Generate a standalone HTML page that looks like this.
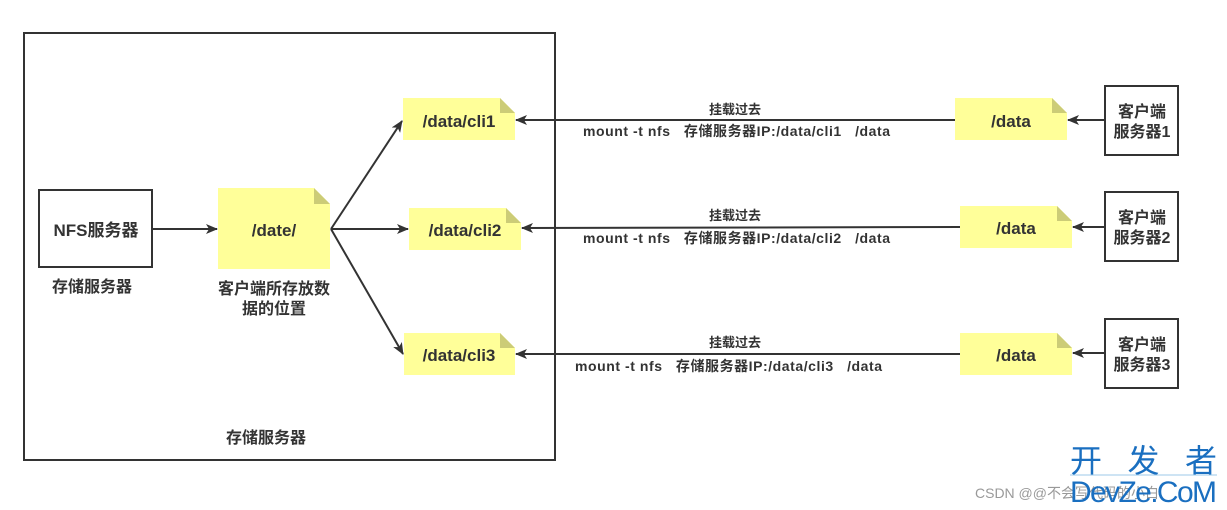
<!DOCTYPE html>
<html><head><meta charset="utf-8"><style>
html,body{margin:0;padding:0;background:#fff;}
svg{display:block;}
text{font-family:"Liberation Sans","Noto Sans CJK SC",sans-serif;fill:#333;font-weight:bold;}
</style></head><body>
<svg width="1227" height="510" viewBox="0 0 1227 510" xmlns="http://www.w3.org/2000/svg">
<defs>
<marker id="a" markerWidth="12" markerHeight="10" refX="11" refY="5" orient="auto" markerUnits="userSpaceOnUse">
<path d="M0,0 L12,5 L0,10 L3,5 Z" fill="#333"/></marker>
</defs>
<g fill="none" stroke="#333" stroke-width="2">
<rect x="24" y="33" width="531" height="427"/>
<rect x="39" y="190" width="113" height="77"/>
<rect x="1105" y="86" width="73" height="69"/>
<rect x="1105" y="192" width="73" height="69"/>
<rect x="1105" y="319" width="73" height="69"/>
</g>
<g fill="#ffff99">
<path d="M218,188 H314 L330,204 V269 H218 Z"/>
<path d="M403,98 H500 L515,113 V140 H403 Z"/>
<path d="M409,208 H506 L521,223 V250 H409 Z"/>
<path d="M404,333 H500 L515,348 V375 H404 Z"/>
<path d="M955,98 H1052 L1067,113 V140 H955 Z"/>
<path d="M960,206 H1057 L1072,221 V248 H960 Z"/>
<path d="M960,333 H1057 L1072,348 V375 H960 Z"/>
</g>
<g fill="#cccc77">
<path d="M314,188 L330,204 H314 Z"/>
<path d="M500,98 L515,113 H500 Z"/>
<path d="M506,208 L521,223 H506 Z"/>
<path d="M500,333 L515,348 H500 Z"/>
<path d="M1052,98 L1067,113 H1052 Z"/>
<path d="M1057,206 L1072,221 H1057 Z"/>
<path d="M1057,333 L1072,348 H1057 Z"/>
</g>
<g stroke="#333" stroke-width="2" fill="none" marker-end="url(#a)">
<line x1="152" y1="229" x2="217" y2="229"/>
<line x1="331" y1="229" x2="402" y2="121"/>
<line x1="331" y1="229" x2="408" y2="229"/>
<line x1="331" y1="229" x2="403" y2="354"/>
<line x1="955" y1="120" x2="516" y2="120"/>
<line x1="960" y1="227" x2="522" y2="228"/>
<line x1="960" y1="354" x2="516" y2="354"/>
<line x1="1105" y1="120" x2="1068" y2="120"/>
<line x1="1105" y1="227" x2="1073" y2="227"/>
<line x1="1105" y1="353" x2="1073" y2="353"/>
</g>
<g font-size="17" text-anchor="middle">
<text x="96" y="236">NFS服务器</text>
<text x="274" y="236">/date/</text>
<text x="459" y="127">/data/cli1</text>
<text x="465" y="236">/data/cli2</text>
<text x="459" y="361">/data/cli3</text>
<text x="1011" y="127">/data</text>
<text x="1016" y="234">/data</text>
<text x="1016" y="361">/data</text>
</g>
<g font-size="16" text-anchor="middle">
<text x="92" y="292">存储服务器</text>
<text x="274" y="294">客户端所存放数</text>
<text x="274" y="314">据的位置</text>
<text x="1142" y="117">客户端</text>
<text x="1142" y="137">服务器1</text>
<text x="1142" y="223">客户端</text>
<text x="1142" y="243">服务器2</text>
<text x="1142" y="350">客户端</text>
<text x="1142" y="370">服务器3</text>
<text x="266" y="443">存储服务器</text>
</g>
<g font-size="13" text-anchor="middle">
<text x="735" y="114">挂载过去</text>
<text x="735" y="220">挂载过去</text>
<text x="735" y="347">挂载过去</text>
</g>
<g font-size="14">
<text x="583" y="136" textLength="307" xml:space="preserve">mount -t nfs   存储服务器IP:/data/cli1   /data</text>
<text x="583" y="243" textLength="307" xml:space="preserve">mount -t nfs   存储服务器IP:/data/cli2   /data</text>
<text x="575" y="371" textLength="307" xml:space="preserve">mount -t nfs   存储服务器IP:/data/cli3   /data</text>
</g>
<text x="975" y="498" font-size="14" style="font-weight:normal;fill:#999">CSDN @@不会写代码的小白</text>
<text x="1070" y="472" font-size="32" textLength="147" style="font-weight:normal;fill:#1a6fc0">开发者</text>
<line x1="1070" y1="475" x2="1217" y2="475" stroke="#9cc8e8" stroke-width="1"/>
<text x="1070" y="502" font-size="30" textLength="147" style="font-weight:normal;fill:#1a6fc0">DevZe.CoM</text>
</svg>
</body></html>
